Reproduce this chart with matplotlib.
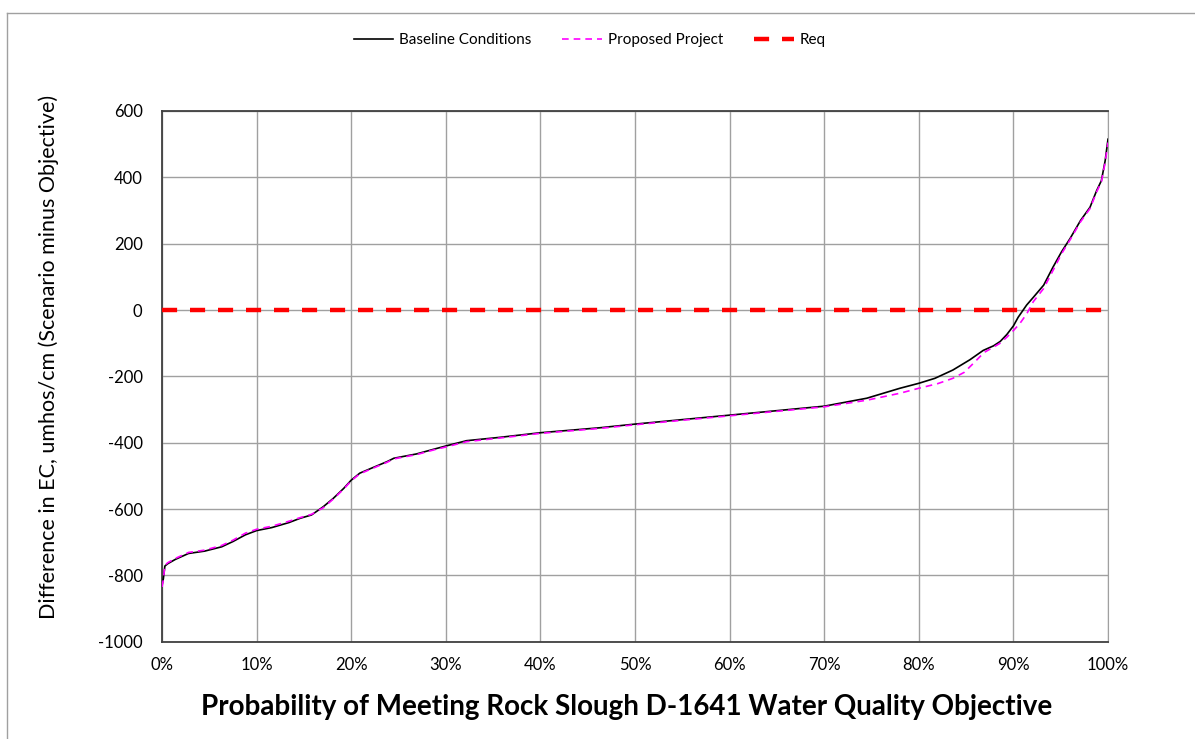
import matplotlib.pyplot as plt
from matplotlib.lines import Line2D
from matplotlib.ticker import PercentFormatter

plt.rcParams['font.family'] = ['Lato', 'DejaVu Sans']
plt.rcParams['axes.unicode_minus'] = False

# exceedance probability (fraction) and EC difference
base_p = [0.0, 0.0014, 0.003, 0.006, 0.014, 0.028, 0.045, 0.063, 0.075, 0.088,
          0.10, 0.116, 0.134, 0.146, 0.158, 0.1705, 0.181, 0.192, 0.20, 0.209,
          0.223, 0.238, 0.245, 0.269, 0.287, 0.30, 0.322, 0.357, 0.40, 0.463,
          0.50, 0.60, 0.70, 0.745, 0.78, 0.80, 0.817, 0.836, 0.854, 0.868,
          0.879, 0.886, 0.893, 0.90, 0.905, 0.914, 0.921, 0.932, 0.942, 0.951,
          0.96, 0.971, 0.981, 0.988, 0.993, 0.997, 1.0]
base_v = [-830, -810, -772, -765, -752, -734, -727, -714, -698, -678,
          -665, -656, -641, -628, -618, -593, -568, -538, -513, -492,
          -475, -457, -447, -434, -420, -410, -394, -384, -370, -355,
          -344, -317, -290, -266, -236, -221, -206, -181, -150, -122,
          -108, -95, -74, -48, -22, 15, 38, 75, 130, 176,
          216, 270, 310, 360, 390, 450, 515]

prop_p = [0.0, 0.0014, 0.003, 0.006, 0.014, 0.028, 0.045, 0.063, 0.075, 0.088,
          0.10, 0.116, 0.134, 0.146, 0.158, 0.1705, 0.181, 0.192, 0.20, 0.209,
          0.223, 0.238, 0.245, 0.269, 0.287, 0.30, 0.322, 0.357, 0.40, 0.463,
          0.50, 0.60, 0.70, 0.745, 0.78, 0.80, 0.82, 0.836, 0.848, 0.858,
          0.869, 0.879, 0.886, 0.893, 0.90, 0.907, 0.914, 0.921, 0.932, 0.942,
          0.951, 0.96, 0.971, 0.981, 0.988, 0.993, 0.997, 1.0]
prop_v = [-835, -812, -770, -762, -749, -731, -724, -710, -694, -673,
          -661, -652, -637, -626, -616, -596, -570, -540, -515, -494,
          -477, -459, -449, -436, -422, -413, -397, -386, -372, -357,
          -346, -319, -292, -272, -251, -236, -222, -206, -188, -160,
          -128, -112, -100, -82, -62, -40, -12, 25, 65, 120,
          170, 212, 266, 306, 356, 386, 445, 505]

req_p = [0.0, 1.0]
req_v = [0, 0]

x_ticks = [i / 10 for i in range(11)]
y_ticks = list(range(-1000, 601, 200))

fig = plt.figure(figsize=(11.95, 7.39), dpi=100)
ax = fig.add_axes([0.1356, 0.1317, 0.7916, 0.7181])

ax.plot(base_p, base_v, color='black', lw=1.2, label='Baseline Conditions', zorder=4)
ax.plot(prop_p, prop_v, color='#FF00FF', lw=1.2, ls=(0, (4, 3)), label='Proposed Project', zorder=5)
ax.plot(req_p, req_v, color='#FF0000', lw=3.2, ls=(0, (3.4, 2.9)), label='Req', zorder=3)

ax.set_xlim(0, 1)
ax.set_ylim(-1000, 600)
ax.set_xticks(x_ticks)
ax.set_yticks(y_ticks)
ax.xaxis.set_major_formatter(PercentFormatter(1.0, decimals=0))
ax.grid(True, color='#a0a0a0', lw=1.0)
ax.set_axisbelow(True)
ax.tick_params(axis='both', length=0, labelsize=12)
ax.tick_params(axis='y', pad=14)
ax.tick_params(axis='x', pad=11)
for s in ['left', 'bottom', 'top']:
    ax.spines[s].set_color('#404040')
    ax.spines[s].set_linewidth(1.3)
ax.spines['right'].set_color('#a0a0a0')

ax.set_xlabel('Probability of Meeting Rock Slough D-1641 Water Quality Objective',
              fontsize=20, fontweight='bold')
ax.set_ylabel('Difference in EC, umhos/cm (Scenario minus Objective)', fontsize=15.5)
ax.xaxis.set_label_coords(0.4915, -0.098)
ax.yaxis.set_label_coords(-0.109, 0.537)

leg = fig.legend(loc='center', bbox_to_anchor=(0.4935, 0.946), ncol=3, frameon=False,
                 fontsize=11, handlelength=2.6, handletextpad=0.4, columnspacing=2.0)

# outer chart border
fig.add_artist(Line2D([7 / 1195, 7 / 1195], [0, 1 - 13 / 739], color='#a0a0a0', lw=1))
fig.add_artist(Line2D([7 / 1195, 1], [1 - 13 / 739, 1 - 13 / 739], color='#a0a0a0', lw=1))

fig.savefig('out.png', dpi=100)
